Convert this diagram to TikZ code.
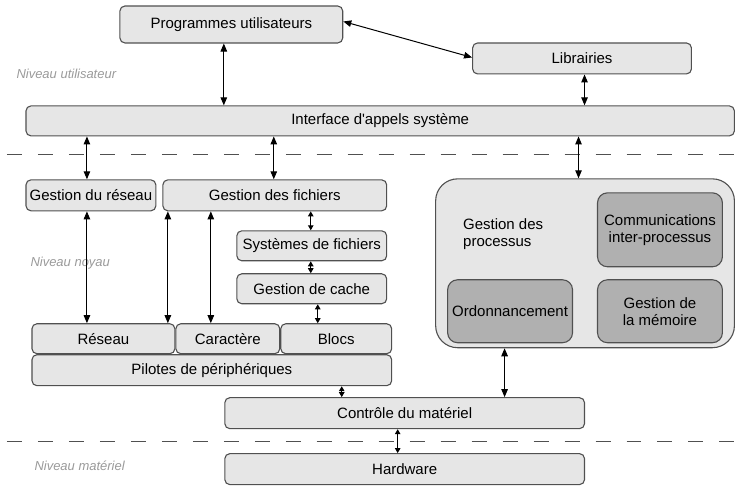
\documentclass[tikz,border=0pt]{standalone}
\usepackage{fontspec}
\setmainfont{Liberation Sans}
\usepackage{tikz}
\usetikzlibrary{arrows.meta}

\definecolor{boxfill}{HTML}{E6E6E6}
\definecolor{boxdark}{HTML}{B0B0B0}
\definecolor{boxline}{HTML}{505050}
\definecolor{niveau}{HTML}{9A9A9A}

\begin{document}
\begin{tikzpicture}[x=1pt, y=-1pt,
	box/.style={draw=boxline, line width=1.1pt, fill=boxfill, rounded corners=5pt, inner sep=0pt, font=\fontsize{15}{17}\selectfont},
	darkbox/.style={box, fill=boxdark, rounded corners=10pt, align=center},
	arr/.style={<->, >={Triangle[length=8pt,width=6.5pt]}, line width=1pt},
	smallarr/.style={<->, >={Triangle[length=5pt,width=5.5pt]}, line width=1pt},
	levelline/.style={draw=boxline, line width=1.2pt, dash pattern=on 15pt off 16pt},
	levellabel/.style={anchor=west, text=niveau, font=\fontsize{13}{15}\selectfont\itshape}]
	\path (0,0) to (737,486);

	% niveaux
	\draw[levelline] (7,155) -- (737,155);
	\draw[levelline] (7,442) -- (737,442);
	\node[levellabel] (nutil) at (13,74) {Niveau utilisateur};
	\node[levellabel] (nnoy) at (27,263) {Niveau noyau};
	\node[levellabel] (nmat) at (31,466) {Niveau matériel};

	% niveau utilisateur
	\node[box, minimum width=223pt, minimum height=37pt] (prog) at (231.5,24.5) {Programmes utilisateurs};
	\node[box, minimum width=219pt, minimum height=31pt] (lib) at (582.5,58.5) {Librairies};
	\node[box, minimum width=709pt, minimum height=30pt] (sys) at (380.5,121) {Interface d\textquotesingle appels système};

	% niveau noyau
	\node[box, minimum width=130pt, minimum height=31pt] (gres) at (91,195.5) {Gestion du réseau};
	\node[box, minimum width=224pt, minimum height=31pt] (gfich) at (275,195.5) {Gestion des fichiers};
	\node[box, minimum width=150pt, minimum height=30pt] (sysf) at (312,246) {Systèmes de fichiers};
	\node[box, minimum width=150pt, minimum height=30pt] (cache) at (312,289) {Gestion de cache};
	\node[box, minimum width=143pt, minimum height=30pt] (reseau) at (103.5,339) {Réseau};
	\node[box, minimum width=104pt, minimum height=30pt] (carac) at (228,339) {Caractère};
	\node[box, minimum width=111pt, minimum height=30pt] (blocs) at (336.5,339) {Blocs};
	\node[box, minimum width=360pt, minimum height=31pt] (pilotes) at (212,370.5) {Pilotes de périphériques};

	\node[box, rounded corners=22pt, minimum width=299pt, minimum height=169pt] (proc) at (585.5,263.5) {};
	\node[box, draw=none, fill=none, anchor=west, align=left] (proctxt) at (463,234) {Gestion des\\processus};
	\node[darkbox, minimum width=125pt, minimum height=74pt] (ipc) at (660.5,230) {Communications\\inter-processus};
	\node[darkbox, minimum width=125pt, minimum height=63pt] (ordo) at (510.5,311.5) {Ordonnancement};
	\node[darkbox, minimum width=125pt, minimum height=63pt] (mem) at (660.5,311.5) {Gestion de\\la mémoire};

	\node[box, minimum width=360pt, minimum height=31pt] (ctrl) at (405,413.5) {Contrôle du matériel};

	% niveau matériel
	\node[box, minimum width=360pt, minimum height=31pt] (hw) at (405,469.5) {Hardware};

	% connexions
	\draw[arr] ([yshift=3pt]prog.east) -- ([yshift=1pt]lib.west);
	\draw[arr] (224,0 |- prog.south) -- (224,0 |- sys.north);
	\draw[arr] (585,0 |- lib.south) -- (585,0 |- sys.north);
	\draw[arr] (87,0 |- sys.south) -- (87,0 |- gres.north);
	\draw[arr] (274,0 |- sys.south) -- (274,0 |- gfich.north);
	\draw[arr] (579,0 |- sys.south) -- (579,0 |- proc.north);
	\draw[arr] (87,0 |- gres.south) -- (87,0 |- reseau.north);
	\draw[arr] (168,0 |- gfich.south) -- (168,0 |- reseau.north);
	\draw[arr] (211,0 |- gfich.south) -- (211,0 |- carac.north);
	\draw[smallarr] (311,0 |- gfich.south) -- (311,0 |- sysf.north);
	\draw[smallarr] (311,0 |- sysf.south) -- (311,0 |- cache.north);
	\draw[smallarr] (318,0 |- cache.south) -- (318,0 |- blocs.north);
	\draw[smallarr] (342,0 |- pilotes.south) -- (342,0 |- ctrl.north);
	\draw[arr] (505,0 |- proc.south) -- (505,0 |- ctrl.north);
	\draw[smallarr] (398,0 |- ctrl.south) -- (398,0 |- hw.north);
\end{tikzpicture}
\end{document}
